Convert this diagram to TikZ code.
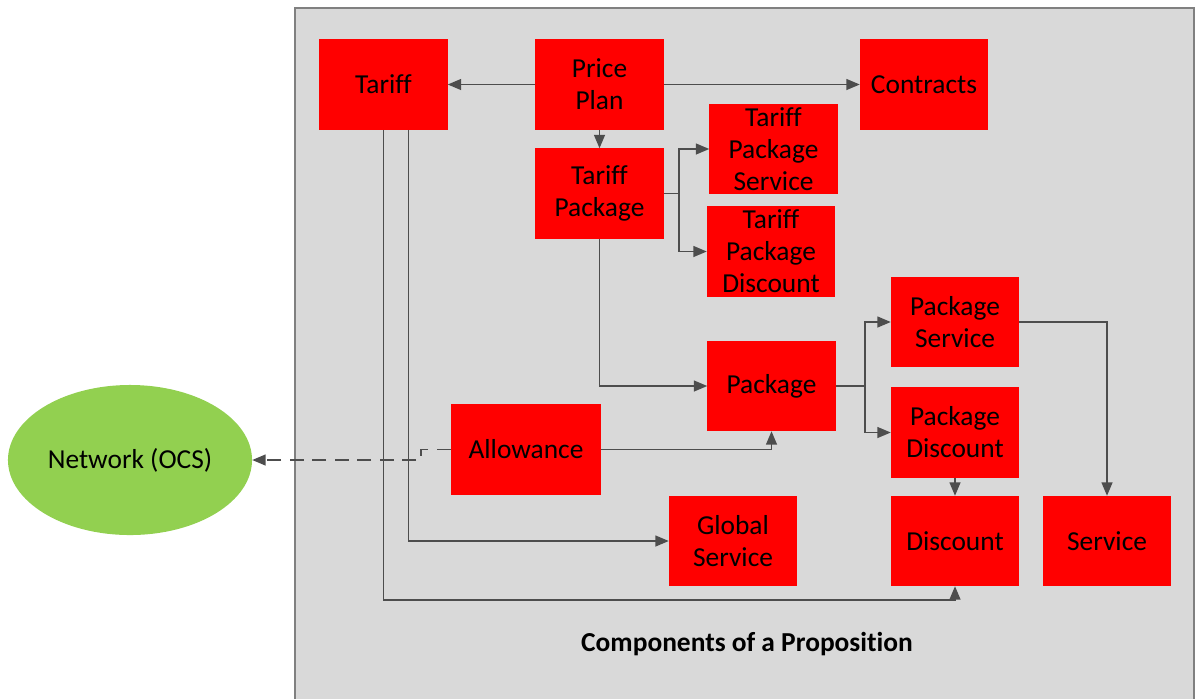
\documentclass[tikz,border=0pt]{standalone}
\usepackage{fontspec}
\setmainfont{Carlito}[Ligatures=NoCommon]
\usepackage{tikz}
\usetikzlibrary{arrows,backgrounds}
\usetikzlibrary{shapes}
\definecolor{panel-grey}{RGB}{217,217,217}
\definecolor{panel-edge}{RGB}{128,128,128}
\definecolor{box-red}{RGB}{255,0,0}
\definecolor{net-green}{RGB}{146,208,80}
\definecolor{link-grey}{RGB}{77,77,77}
\tikzstyle{component}=[fill=box-red, draw=none, minimum width=3.2cm, minimum height=2.25cm, align=center, inner sep=0pt]
\tikzstyle{link}=[-triangle 45, draw=link-grey, line width=1.2pt]
\tikzstyle{proposition}=[x=0.025cm, y=-0.025cm, font=\fontsize{19.5}{22.8}\selectfont]

\begin{document}
\begin{tikzpicture}[proposition]
	\useasboundingbox (0,0) rectangle (1195,699);
	\fill[panel-grey] (295,8) rectangle (1194,699);
	\draw[panel-edge, line width=1.5pt] (295,699)--(295,8)--(1194,8)--(1194,699);
	% components
	\node[component] (tariff) at (383.5,84.5) {Tariff};
	\node[component] (plan) at (599.5,84.5) {Price\\Plan};
	\node[component] (contracts) at (924,84.5) {Contracts};
	\node[component] (tpkg) at (599.5,193.5) {Tariff\\Package};
	\node[component] (tpsvc) at (773.5,149) {Tariff\\Package\\Service};
	\node[component] (tpdisc) at (771,251.5) {Tariff\\Package\\Discount};
	\node[component] (pkg) at (771.5,386) {Package};
	\node[component] (psvc) at (955,322) {Package\\Service};
	\node[component] (pdisc) at (955,432.5) {Package\\Discount};
	\node[component, minimum width=3.75cm] (allow) at (526,449.5) {Allowance};
	\node[component] (gsvc) at (733,541) {Global\\Service};
	\node[component] (disc) at (955,541) {Discount};
	\node[component] (svc) at (1107,541) {Service};
	\node[ellipse, fill=net-green, minimum width=6.1cm, minimum height=3.75cm, inner sep=0pt] (ocs) at (130,460) {Network (OCS)};
	\node[font=\fontsize{19.5}{22.8}\selectfont\bfseries] (title) at (747,644) {Components of a Proposition};
	\coordinate (rail) at (955,600);
	% links
	\draw[link] (plan) -- (tariff);
	\draw[link] (plan) -- (contracts);
	\draw[link] (plan) -- (tpkg);
	\draw[link] (tpkg.east) -- ++(15,0) |- (tpsvc.west);
	\draw[link] (tpkg.east) -- ++(15,0) |- (tpdisc.west);
	\draw[link] (tpkg.south) |- (pkg.west);
	\draw[link] (pkg.east) -- ++(29,0) |- (psvc.west);
	\draw[link] (pkg.east) -- ++(29,0) |- (pdisc.west);
	\draw[link] (psvc.east) -| (svc.north);
	\draw[link] (pdisc) -- (disc);
	\draw[link] (allow.east) -| (pkg.south);
	\draw[link] (tariff.south) |- (rail) -- (disc.south);
	\draw[link] ([xshift=0.625cm]tariff.south) |- (gsvc.west);
	\draw[link, dash pattern=on 10pt off 6pt] (allow.west) -- ++(-30,0) |- (ocs.east);
\end{tikzpicture}
\end{document}
